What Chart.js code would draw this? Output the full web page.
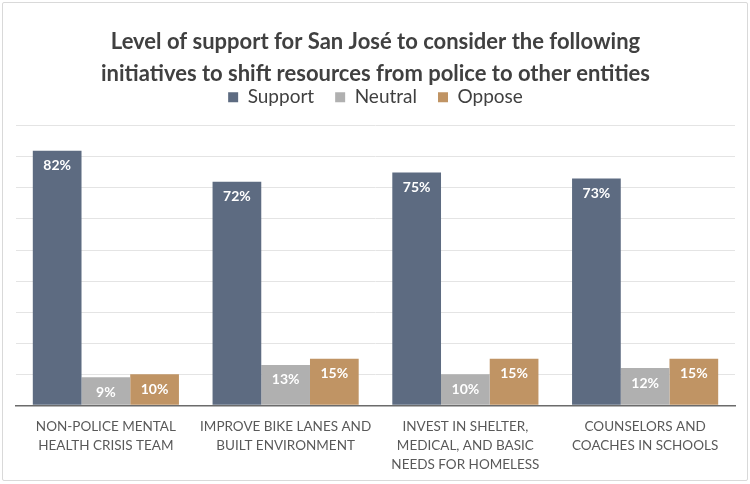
<!DOCTYPE html>
<html>
<head>
<meta charset="utf-8">
<script src="https://cdn.jsdelivr.net/npm/chart.js@4/dist/chart.umd.min.js"></script>
<style>
  html, body { margin: 0; padding: 0; background: #fff; }
  #frame {
    position: absolute; left: 2px; top: 2px; width: 744px; height: 477px;
    border: 1px solid #d9d9d9; border-radius: 2px;
  }
  #wrap { position: absolute; left: 0; top: 0; width: 750px; height: 484px; }
</style>
</head>
<body>
<div id="frame"></div>
<div id="wrap"><canvas id="chart" width="750" height="484"></canvas></div>
<script>
"use strict";

const categories = [
  ["NON-POLICE MENTAL", "HEALTH CRISIS TEAM"],
  ["IMPROVE BIKE LANES AND", "BUILT ENVIRONMENT"],
  ["INVEST IN SHELTER,", "MEDICAL, AND BASIC", "NEEDS FOR HOMELESS"],
  ["COUNSELORS AND", "COACHES IN SCHOOLS"],
];
const supportValues = [82, 72, 75, 73];
const neutralValues = [9, 13, 10, 12];
const opposeValues = [10, 15, 15, 15];
const titleLines = [
  "Level of support for San José to consider the following",
  "initiatives to shift resources from police to other entities",
];

const FONT = "Lato, 'Open Sans', sans-serif";

// white labels just inside the top of each bar
const barLabels = {
  id: "barLabels",
  afterDatasetsDraw(chart) {
    const ctx = chart.ctx;
    ctx.save();
    ctx.font = "bold 14px " + FONT;
    ctx.fillStyle = "#ffffff";
    ctx.textAlign = "center";
    ctx.textBaseline = "middle";
    chart.data.datasets.forEach((ds, i) => {
      const meta = chart.getDatasetMeta(i);
      meta.data.forEach((bar, j) => {
        ctx.fillText(ds.data[j] + "%", bar.x, bar.y + 15);
      });
    });
    ctx.restore();
  },
};

// empty strip between the legend and the plot area
const legendGap = {
  id: "legendGap",
  beforeInit(chart) {
    Chart.layouts.addBox(chart, {
      position: "top",
      weight: 500,
      fullSize: true,
      options: {},
      isHorizontal() { return true; },
      update(maxWidth) {
        this.width = maxWidth;
        this.height = 9;
      },
      draw() {},
    });
  },
};

const ctx = document.getElementById("chart").getContext("2d");
new Chart(ctx, {
  type: "bar",
  data: {
    labels: categories,
    datasets: [
      { label: "Support", data: supportValues, backgroundColor: "#5d6b81" },
      { label: "Neutral", data: neutralValues, backgroundColor: "#b0b0b0" },
      { label: "Oppose", data: opposeValues, backgroundColor: "#c09464" },
    ],
  },
  options: {
    responsive: false,
    animation: false,
    datasets: {
      bar: { categoryPercentage: 0.813, barPercentage: 1.0 },
    },
    layout: { padding: { left: 16, right: 15, top: 0, bottom: -2 } },
    plugins: {
      title: {
        display: true,
        text: titleLines,
        color: "#404040",
        font: { family: FONT, size: 22, weight: "bold", lineHeight: 1.45 },
        padding: { top: 26, bottom: -23 },
      },
      legend: {
        position: "top",
        labels: {
          color: "#404040",
          font: { family: FONT, size: 19 },
          boxWidth: 10,
          boxHeight: 10,
          padding: 21,
        },
      },
      tooltip: { enabled: false },
    },
    scales: {
      x: {
        grid: { display: false, drawTicks: false },
        border: { color: "#6b6b6b", width: 1.5 },
        ticks: {
          color: "#595959",
          font: { family: FONT, size: 13.5, lineHeight: 1.4 },
          padding: 12,
          maxRotation: 0,
          autoSkip: false,
        },
      },
      y: {
        min: 0,
        max: 90,
        ticks: { display: false, stepSize: 10 },
        border: { display: false },
        grid: { color: "#e4e4e4", lineWidth: 1, drawTicks: false },
      },
    },
  },
  plugins: [barLabels, legendGap],
});
</script>
</body>
</html>
